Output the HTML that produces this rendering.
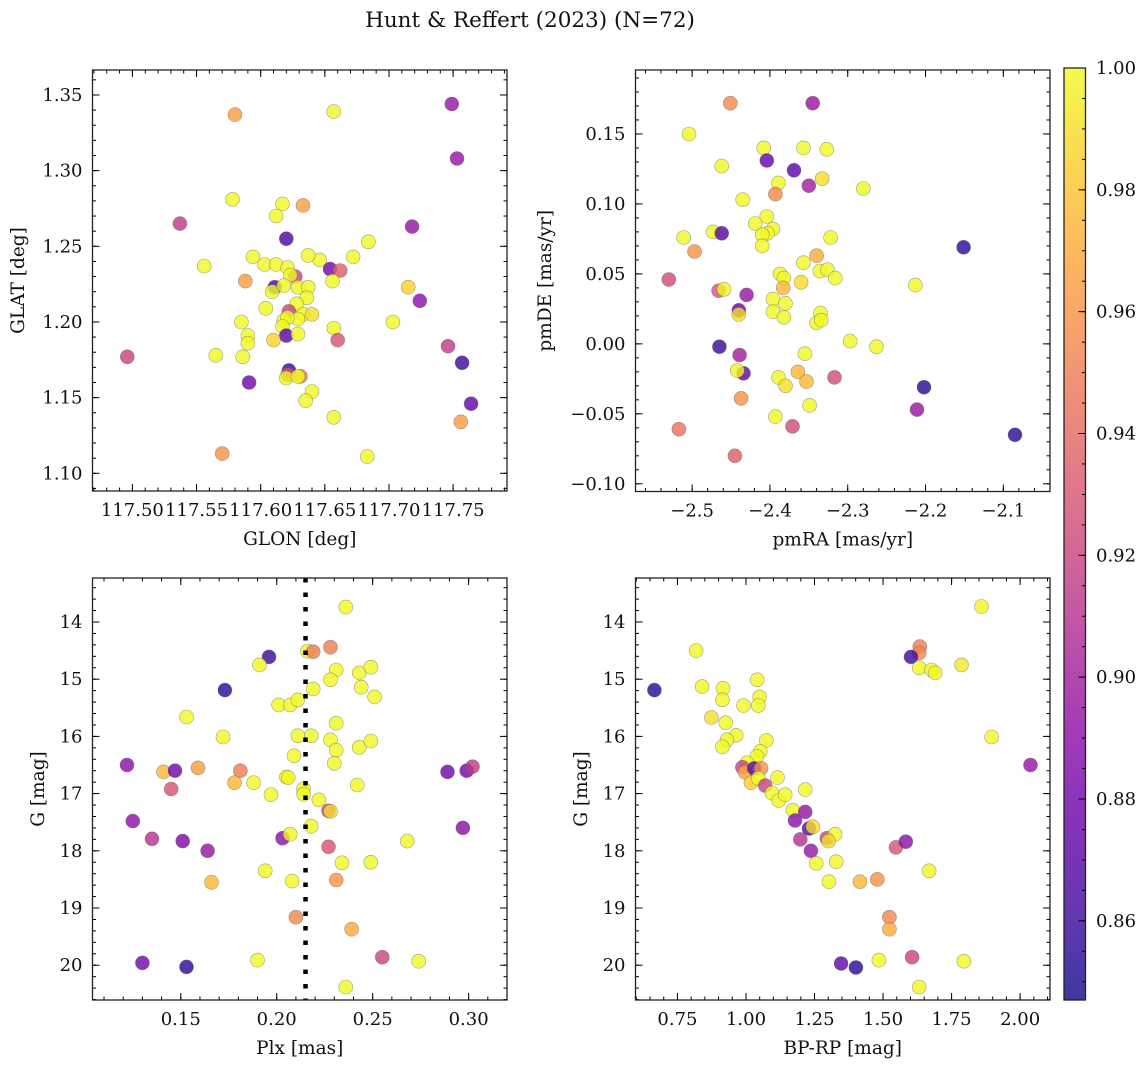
<!DOCTYPE html>
<html><head><meta charset="utf-8">
<style>
html,body{margin:0;padding:0;background:#fff;}
svg text{font-family:"DejaVu Serif","Liberation Serif",serif;fill:#111;}
</style></head>
<body>
<svg id="fig" width="1148" height="1068" viewBox="0 0 1148 1068" xmlns="http://www.w3.org/2000/svg">
<rect width="1148" height="1068" fill="#fff"/>
<text x="530" y="27" font-size="21.5" text-anchor="middle">Hunt &amp; Reffert (2023) (N=72)</text>
<defs>
<linearGradient id="cbgrad" x1="0" y1="1" x2="0" y2="0"></linearGradient>
</defs>
</svg>
<script>
// ---- Panel 1: GLON / GLAT ----
const p1Glon=[117.580,117.657,117.749,117.753,117.537,117.578,117.617,117.633,117.612,117.620,117.718,117.684,117.672,117.646,117.637,117.594,117.556,117.603,117.612,117.621,117.627,117.623,117.654,117.662,117.656,117.588,117.611,117.609,117.618,117.629,117.637,117.636,117.628,117.715,117.724,117.604,117.622,117.633,117.640,117.629,117.618,117.621,117.617,117.585,117.657,117.703,117.620,117.629,117.590,117.590,117.610,117.660,117.496,117.565,117.586,117.746,117.757,117.591,117.622,117.621,117.620,117.631,117.629,117.640,117.635,117.764,117.657,117.756,117.570,117.683];
const p1Glat=[1.337,1.339,1.344,1.308,1.265,1.281,1.278,1.277,1.270,1.255,1.263,1.253,1.243,1.241,1.244,1.243,1.237,1.238,1.238,1.236,1.230,1.231,1.235,1.234,1.227,1.227,1.223,1.220,1.224,1.223,1.223,1.216,1.212,1.223,1.214,1.209,1.207,1.205,1.205,1.202,1.201,1.203,1.197,1.200,1.196,1.200,1.191,1.192,1.191,1.186,1.188,1.188,1.177,1.178,1.177,1.184,1.173,1.160,1.168,1.165,1.163,1.164,1.164,1.154,1.148,1.146,1.137,1.134,1.113,1.111];
const p1Prob=[0.965,1.0,0.895,0.895,0.915,1.0,1.0,0.965,1.0,0.865,0.895,1.0,1.0,1.0,1.0,1.0,1.0,1.0,1.0,1.0,0.92,1.0,0.88,0.935,1.0,0.965,0.865,1.0,1.0,1.0,1.0,1.0,1.0,0.985,0.89,1.0,0.92,1.0,0.99,1.0,1.0,1.0,1.0,1.0,1.0,1.0,0.87,1.0,1.0,1.0,0.985,0.93,0.92,1.0,1.0,0.915,0.86,0.88,0.86,0.93,1.0,0.95,1.0,1.0,1.0,0.875,1.0,0.965,0.96,1.0];
// ---- Panel 2: pmRA / pmDE ----
const p2Pmra=[-2.451,-2.345,-2.504,-2.408,-2.357,-2.327,-2.404,-2.462,-2.369,-2.333,-2.389,-2.350,-2.393,-2.280,-2.435,-2.404,-2.419,-2.396,-2.403,-2.410,-2.410,-2.473,-2.462,-2.511,-2.497,-2.322,-2.151,-2.340,-2.357,-2.336,-2.326,-2.316,-2.387,-2.382,-2.360,-2.383,-2.213,-2.530,-2.466,-2.459,-2.430,-2.396,-2.380,-2.440,-2.440,-2.396,-2.382,-2.335,-2.340,-2.334,-2.297,-2.263,-2.465,-2.439,-2.355,-2.434,-2.442,-2.364,-2.353,-2.389,-2.380,-2.317,-2.202,-2.211,-2.437,-2.349,-2.393,-2.371,-2.085,-2.517,-2.445];
const p2Pmde=[0.172,0.172,0.150,0.140,0.140,0.139,0.131,0.127,0.124,0.118,0.115,0.113,0.107,0.111,0.103,0.091,0.086,0.082,0.079,0.078,0.070,0.080,0.079,0.076,0.066,0.076,0.069,0.063,0.058,0.052,0.053,0.047,0.050,0.047,0.044,0.040,0.042,0.046,0.038,0.039,0.035,0.032,0.029,0.024,0.021,0.023,0.019,0.022,0.015,0.017,0.002,-0.002,-0.002,-0.008,-0.007,-0.021,-0.019,-0.020,-0.027,-0.024,-0.030,-0.024,-0.031,-0.047,-0.039,-0.044,-0.052,-0.059,-0.065,-0.061,-0.080];
const p2Prob=[0.955,0.895,1.0,1.0,1.0,1.0,0.875,1.0,0.87,0.99,1.0,0.9,0.955,1.0,1.0,1.0,1.0,1.0,1.0,1.0,1.0,1.0,0.87,1.0,0.96,1.0,0.855,0.97,1.0,1.0,1.0,1.0,1.0,1.0,0.99,0.975,1.0,0.925,0.93,1.0,0.895,1.0,1.0,0.875,0.99,1.0,1.0,1.0,1.0,1.0,1.0,1.0,0.86,0.9,1.0,0.875,1.0,0.975,0.975,1.0,0.99,0.925,0.855,0.895,0.96,1.0,1.0,0.925,0.855,0.945,0.935];
// ---- Panel 3: Plx / G ----
const p3Plx=[0.236,0.216,0.219,0.228,0.196,0.191,0.231,0.243,0.249,0.228,0.219,0.244,0.251,0.173,0.201,0.207,0.211,0.153,0.231,0.172,0.211,0.218,0.228,0.231,0.243,0.249,0.230,0.209,0.122,0.141,0.147,0.159,0.181,0.145,0.178,0.188,0.197,0.205,0.214,0.214,0.222,0.227,0.228,0.242,0.125,0.135,0.151,0.164,0.203,0.207,0.218,0.227,0.268,0.234,0.249,0.194,0.166,0.208,0.231,0.289,0.299,0.302,0.297,0.130,0.153,0.190,0.210,0.239,0.255,0.274,0.236,0.206];
const p3G=[13.74,14.51,14.52,14.44,14.61,14.75,14.84,14.89,14.79,15.01,15.17,15.14,15.31,15.19,15.45,15.45,15.36,15.66,15.77,16.01,15.99,15.99,16.06,16.24,16.19,16.08,16.47,16.34,16.50,16.62,16.60,16.55,16.60,16.92,16.81,16.81,17.02,16.71,16.92,17.01,17.11,17.30,17.31,16.85,17.48,17.79,17.83,18.00,17.78,17.71,17.57,17.93,17.83,18.21,18.20,18.35,18.55,18.53,18.51,16.62,16.60,16.53,17.60,19.96,20.03,19.91,19.16,19.37,19.86,19.93,20.38,16.72];
const p3Prob=[1.0,1.0,0.95,0.95,0.86,1.0,1.0,1.0,1.0,1.0,1.0,1.0,1.0,0.855,1.0,1.0,1.0,1.0,1.0,1.0,1.0,1.0,1.0,1.0,1.0,1.0,1.0,1.0,0.89,0.975,0.88,0.965,0.95,0.93,0.975,1.0,1.0,1.0,1.0,1.0,1.0,0.92,0.99,1.0,0.89,0.91,0.885,0.895,0.89,1.0,1.0,0.93,1.0,1.0,1.0,1.0,0.975,1.0,0.96,0.88,0.88,0.915,0.89,0.88,0.855,1.0,0.955,0.97,0.92,1.0,1.0,1.0];
const plxMean=0.215;
// ---- Panel 4: BP-RP / G ----
const p4Bprp=[1.859,1.634,1.632,1.602,1.632,1.677,1.690,1.786,0.818,0.666,0.840,0.916,0.914,1.041,1.050,1.045,0.991,0.874,0.926,0.964,0.931,0.914,1.074,1.052,1.040,1.004,0.987,0.997,1.030,1.055,1.018,1.045,1.070,1.095,1.115,1.119,1.143,1.216,1.171,1.216,1.179,1.230,1.244,1.198,1.295,1.325,1.301,1.237,1.256,1.329,1.303,1.416,1.479,1.547,1.583,1.668,1.896,2.038,1.523,1.523,1.347,1.401,1.485,1.606,1.795,1.632];
const p4G=[13.73,14.43,14.54,14.61,14.80,14.84,14.89,14.75,14.50,15.19,15.13,15.16,15.36,15.01,15.31,15.46,15.46,15.67,15.76,15.98,16.06,16.18,16.07,16.26,16.35,16.46,16.54,16.63,16.56,16.56,16.81,16.73,16.86,16.99,16.72,17.12,17.02,16.93,17.29,17.32,17.47,17.61,17.58,17.80,17.78,17.71,17.83,18.00,18.22,18.19,18.54,18.54,18.50,17.94,17.84,18.35,16.01,16.50,19.16,19.37,19.97,20.04,19.91,19.86,19.93,20.38];
const p4Prob=[1.0,0.95,0.955,0.86,1.0,1.0,1.0,0.995,1.0,0.855,1.0,1.0,1.0,1.0,1.0,1.0,1.0,0.99,1.0,1.0,1.0,1.0,1.0,1.0,1.0,1.0,0.92,0.97,0.87,0.96,0.985,1.0,0.92,1.0,1.0,1.0,1.0,1.0,1.0,0.895,0.89,0.87,0.99,0.91,0.92,1.0,0.99,0.895,1.0,1.0,1.0,0.975,0.96,0.93,0.89,1.0,1.0,0.895,0.955,0.97,0.875,0.855,1.0,0.92,1.0,1.0];
// colorbar ticks
const cbTicks=[1.00,0.98,0.96,0.94,0.92,0.90,0.88,0.86];
const cbMin=0.847, cbMax=1.0;

const NS="http://www.w3.org/2000/svg";
const svg=document.getElementById('fig');
function mk(tag,attrs,parent){const e=document.createElementNS(NS,tag);for(const k in attrs)e.setAttribute(k,attrs[k]);(parent||svg).appendChild(e);return e;}
const stops=[[13,8,135],[65,4,157],[106,0,168],[143,13,164],[177,42,144],[204,71,120],[225,100,98],[242,132,75],[252,166,54],[252,206,37],[240,249,33]];
function plasma(t){t=Math.max(0,Math.min(1,t));const f=t*10,i=Math.min(9,Math.floor(f)),u=f-i;const a=stops[i],b=stops[i+1];return 'rgb('+a.map((v,k)=>Math.round(v+(b[k]-v)*u)).join(',')+')';}
function cmap(p){return plasma((p-cbMin)/(cbMax-cbMin));}
function fmt(v,d){const s=Math.abs(v).toFixed(d);return (v<-1e-9?'\u2212':'')+s;}
const TF=18;

function panel(o){
  const g=mk('g',{});
  
  
  const sx=v=>o.x0+(v-o.xd[0])/(o.xd[1]-o.xd[0])*(o.x1-o.x0);
  const sy=v=>o.inv? o.y0+(v-o.yd[0])/(o.yd[1]-o.yd[0])*(o.y1-o.y0) : o.y1-(v-o.yd[0])/(o.yd[1]-o.yd[0])*(o.y1-o.y0);
  const pg=mk('g',{},g);
  
  
  for(let i=0;i<o.xs.length;i++){
    const c=mk('circle',{cx:sx(o.xs[i]).toFixed(1),cy:sy(o.ys[i]).toFixed(1),r:7,fill:cmap(o.cs[i]),'fill-opacity':0.8,stroke:'#666','stroke-opacity':0.6,'stroke-width':0.6},pg);
    
    
  }
  if(o.vline!==undefined){
    const l=mk('line',{x1:sx(o.vline),x2:sx(o.vline),y1:o.y0,y2:o.y1,stroke:'#000','stroke-width':4.5,'stroke-dasharray':'4.5 10'},g);
    
    
  }
  const tg=mk('g',{stroke:'#000','stroke-width':1},g);
  function ticks(d,step){
    const out=[];const s=Math.ceil(d[0]/step-1e-6),e=Math.floor(d[1]/step+1e-6);
    for(let k=s;k<=e;k++)out.push(k*step);return out;
  }
  const xmaj=ticks(o.xd,o.xmaj),xmin=ticks(o.xd,o.xmaj/o.xmn);
  const ymaj=ticks(o.yd,o.ymaj),ymin=ticks(o.yd,o.ymaj/o.ymn);
  xmin.forEach(v=>{const x=sx(v);mk('line',{x1:x,x2:x,y1:o.y1,y2:o.y1-3.5},tg);mk('line',{x1:x,x2:x,y1:o.y0,y2:o.y0+3.5},tg);});
  ymin.forEach(v=>{const y=sy(v);mk('line',{x1:o.x0,x2:o.x0+3.5,y1:y,y2:y},tg);mk('line',{x1:o.x1,x2:o.x1-3.5,y1:y,y2:y},tg);});
  xmaj.forEach(v=>{const x=sx(v);mk('line',{x1:x,x2:x,y1:o.y1,y2:o.y1-7},tg);mk('line',{x1:x,x2:x,y1:o.y0,y2:o.y0+7},tg);
    const t=mk('text',{x:x,y:o.y1+25,'font-size':TF,'text-anchor':'middle'},g);t.textContent=fmt(v,o.xdec);
    });
  ymaj.forEach(v=>{const y=sy(v);mk('line',{x1:o.x0,x2:o.x0+7,y1:y,y2:y},tg);mk('line',{x1:o.x1,x2:o.x1-7,y1:y,y2:y},tg);
    const t=mk('text',{x:o.x0-10,y:y+6,'font-size':TF,'text-anchor':'end'},g);t.textContent=fmt(v,o.ydec);
    });
  const fr=mk('rect',{x:o.x0,y:o.y0,width:o.x1-o.x0,height:o.y1-o.y0,fill:'none',stroke:'#222','stroke-width':1.3},g);
  
  const xl=mk('text',{x:(o.x0+o.x1)/2,y:o.y1+54,'font-size':18.5,'text-anchor':'middle'},g);xl.textContent=o.xlabel;
  
  const yl=mk('text',{x:0,y:0,'font-size':18.5,'text-anchor':'middle',transform:`translate(${o.ylx},${(o.y0+o.y1)/2}) rotate(-90)`},g);yl.textContent=o.ylabel;
  
}

panel({name:'glon-glat-panel',x0:92.5,x1:507,y0:70,y1:491,xd:[117.4689,117.792],yd:[1.0883,1.3665],xs:p1Glon,ys:p1Glat,cs:p1Prob,xmaj:0.05,xmn:5,ymaj:0.05,ymn:5,xdec:2,ydec:2,xlabel:'GLON [deg]',ylabel:'GLAT [deg]',ylx:24});
panel({name:'pm-panel',x0:635.5,x1:1050,y0:70,y1:491.5,xd:[-2.5728,-2.04],yd:[-0.1055,0.1957],xs:p2Pmra,ys:p2Pmde,cs:p2Prob,xmaj:0.1,xmn:5,ymaj:0.05,ymn:5,xdec:1,ydec:2,xlabel:'pmRA [mas/yr]',ylabel:'pmDE [mas/yr]',ylx:551});
panel({name:'plx-g-panel',x0:92.5,x1:507,y0:578,y1:1000,xd:[0.104,0.320],yd:[13.231,20.608],inv:true,xs:p3Plx,ys:p3G,cs:p3Prob,xmaj:0.05,xmn:5,ymaj:1,ymn:5,xdec:2,ydec:0,xlabel:'Plx [mas]',ylabel:'G [mag]',ylx:44,vline:plxMean});
panel({name:'cmd-panel',x0:635.5,x1:1050,y0:578,y1:1000,xd:[0.597,2.109],yd:[13.231,20.608],inv:true,xs:p4Bprp,ys:p4G,cs:p4Prob,xmaj:0.25,xmn:5,ymaj:1,ymn:5,xdec:2,ydec:0,xlabel:'BP-RP [mag]',ylabel:'G [mag]',ylx:587});

// colorbar
const grad=document.getElementById('cbgrad');
for(let i=0;i<=10;i++){mk('stop',{offset:i/10,'stop-color':plasma(i/10)},grad);}
const cb=mk('g',{});


const cx0=1064,cx1=1085.5,cy0=68,cy1=1000;
mk('rect',{x:cx0,y:cy0,width:cx1-cx0,height:cy1-cy0,fill:'url(#cbgrad)','fill-opacity':0.8},cb);
const cby=v=>cy1-(v-cbMin)/(cbMax-cbMin)*(cy1-cy0);
for(let k=Math.ceil(cbMin/0.005);k*0.005<=cbMax+1e-9;k++){const y=cby(k*0.005);mk('line',{x1:cx1,x2:cx1-3.5,y1:y,y2:y,stroke:'#000'},cb);}
cbTicks.forEach(v=>{const y=cby(v);mk('line',{x1:cx1,x2:cx1-7,y1:y,y2:y,stroke:'#000'},cb);
  const t=mk('text',{x:1096,y:y+6,'font-size':TF},cb);t.textContent=v.toFixed(2);
  });
mk('rect',{x:cx0,y:cy0,width:cx1-cx0,height:cy1-cy0,fill:'none',stroke:'#222','stroke-width':1.3},cb);
</script>
</body></html>
